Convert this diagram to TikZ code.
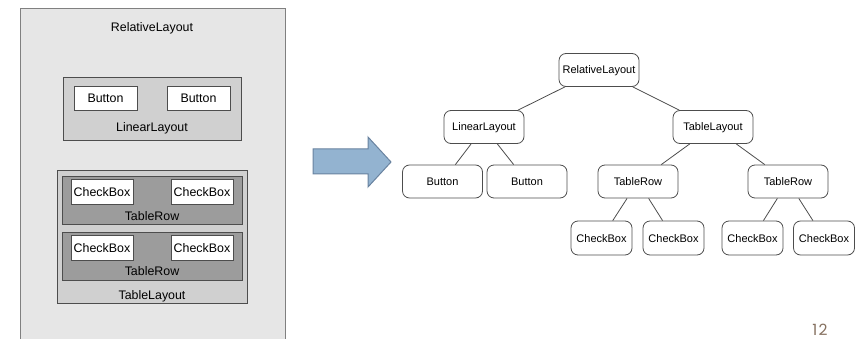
\documentclass[tikz,border=0pt]{standalone}
\usepackage{fontspec}
\setmainfont{Liberation Sans}
\newfontfamily\slidefont[LetterSpace=8]{Poppins}
\usetikzlibrary{positioning}
\definecolor{panelgray}{HTML}{E6E6E6}
\definecolor{boxgray}{HTML}{D0D0D0}
\definecolor{rowgray}{HTML}{9C9C9C}
\definecolor{edgegray}{HTML}{4D4D4D}
\definecolor{arrowblue}{HTML}{93B3D0}
\definecolor{arrowedge}{HTML}{6983A0}
\definecolor{pagebrown}{HTML}{85705F}
\tikzset{
    panel/.style={
    rectangle,draw=gray,fill=panelgray,line width=0.8pt,inner sep=0pt
    },
    layout/.style={
    rectangle,draw=edgegray,fill=boxgray,line width=0.8pt,inner sep=0pt
    },
    tablerow/.style={
    rectangle,draw=edgegray,fill=rowgray,line width=0.8pt,inner sep=0pt
    },
    widget/.style={
    rectangle,draw=edgegray,fill=white,line width=0.8pt,inner sep=0pt,
    font=\fontsize{12.4}{14}\selectfont,text height=9pt,text depth=0pt
    },
    caption/.style={
    anchor=base,inner sep=0pt,font=\fontsize{12.4}{14}\selectfont
    },
    tnode/.style={
    rectangle,rounded corners=7pt,draw=edgegray,fill=white,line width=0.8pt,
    minimum width=80pt,minimum height=33pt,inner sep=0pt,
    font=\fontsize{11}{13}\selectfont,text height=8pt,text depth=0pt
    },
    leaf/.style={
    tnode,minimum width=61pt,minimum height=34pt
    },
}

\begin{document}
\begin{tikzpicture}[x=1pt, y=-1pt]
   \useasboundingbox (0,0) rectangle (861,339);

   % nested layouts on the left
   \node[panel,minimum width=265pt,minimum height=340pt] (rel) at (152.5,178) {};
   \node[caption] (relcap) at (152,31.5) {RelativeLayout};

   \node[layout,minimum width=178pt,minimum height=63pt] (lin) at (152,108.5) {};
   \node[widget,minimum width=63pt,minimum height=24pt] (btnA) at (105.5,98) {Button};
   \node[widget,minimum width=63pt,minimum height=24pt] (btnB) at (198.5,98) {Button};
   \node[caption] (lincap) at (152,132) {LinearLayout};

   \node[layout,minimum width=190pt,minimum height=133pt] (tab) at (152,236.5) {};
   \node[tablerow,minimum width=180pt,minimum height=48pt] (rowA) at (152,200) {};
   \node[widget,minimum width=62pt,minimum height=25pt] (chkA) at (102,191.5) {CheckBox};
   \node[widget,minimum width=62pt,minimum height=25pt] (chkB) at (202,191.5) {CheckBox};
   \node[caption] (rowAcap) at (152,220.5) {TableRow};
   \node[tablerow,minimum width=180pt,minimum height=48pt] (rowB) at (152,256) {};
   \node[widget,minimum width=62pt,minimum height=25pt] (chkC) at (102,247.5) {CheckBox};
   \node[widget,minimum width=62pt,minimum height=25pt] (chkD) at (202,247.5) {CheckBox};
   \node[caption] (rowBcap) at (152,275.5) {TableRow};
   \node[caption] (tabcap) at (152,299) {TableLayout};

   % block arrow
   \draw[fill=arrowblue,draw=arrowedge,line width=1pt]
     (313,149) -- (368,149) -- (368,137) -- (391,162) -- (368,187) -- (368,174) -- (313,174) -- cycle;

   % view tree on the right
   \node[tnode] (R) at (599,70) {RelativeLayout};
   \node[tnode] (L) at (484,127) {LinearLayout};
   \node[tnode] (T) at (713,127) {TableLayout};
   \node[tnode] (b1) at (442.5,181.5) {Button};
   \node[tnode] (b2) at (527,181.5) {Button};
   \node[tnode] (r1) at (638,181.5) {TableRow};
   \node[tnode] (r2) at (788,181.5) {TableRow};
   \node[leaf] (c1) at (601.5,238) {CheckBox};
   \node[leaf] (c2) at (673.5,238) {CheckBox};
   \node[leaf] (c3) at (752.5,238) {CheckBox};
   \node[leaf] (c4) at (824,238) {CheckBox};

  \path[draw=edgegray,line width=0.8pt]
    (R) edge (L)
    (R) edge (T)
    (L) edge (b1)
    (L) edge (b2)
    (T) edge (r1)
    (T) edge (r2)
    (r1) edge (c1)
    (r1) edge (c2)
    (r2) edge (c3)
    (r2) edge (c4);

   \node[text=pagebrown,font=\slidefont\fontsize{15.5}{18}\selectfont] (page) at (820,329.5) {12};
\end{tikzpicture}
\end{document}
